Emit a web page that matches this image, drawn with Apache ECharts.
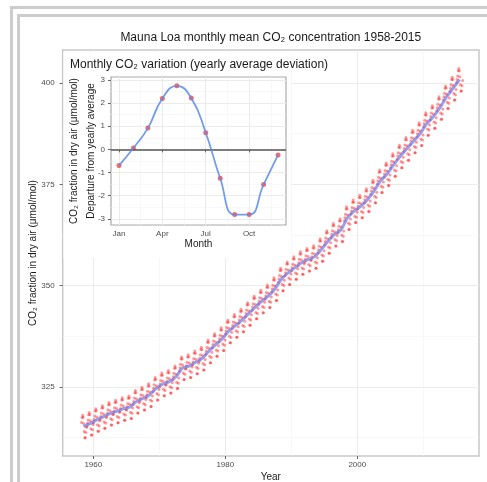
<!DOCTYPE html>
<html>
<head>
<meta charset="utf-8">
<title>Mauna Loa CO2</title>
<script src="https://cdn.jsdelivr.net/npm/echarts@6.0.0/dist/echarts.min.js"></script>
<style>
html, body { margin: 0; padding: 0; background: #fff; }
#chart { width: 487px; height: 482px; }
</style>
</head>
<body>
<div id="chart"></div>
<script>
// yearly means, ppm (Mauna Loa)
var years = [1958,1959,1960,1961,1962,1963,1964,1965,1966,1967,1968,1969,
    1970,1971,1972,1973,1974,1975,1976,1977,1978,1979,1980,1981,1982,1983,1984,1985,1986,1987,1988,1989,
    1990,1991,1992,1993,1994,1995,1996,1997,1998,1999,2000,2001,2002,2003,2004,2005,2006,2007,2008,2009,
    2010,2011,2012,2013,2014,2015];
var annualMean = [315.30,315.97,316.91,317.64,318.45,318.99,319.62,320.04,321.38,322.16,323.04,324.62,
    325.68,326.32,327.45,329.68,330.18,331.11,332.04,333.83,335.40,336.84,338.75,340.11,341.45,343.05,344.65,346.12,347.42,349.19,351.57,353.12,
    354.39,355.61,356.45,357.10,358.83,360.82,362.61,363.73,366.70,368.38,369.55,371.14,373.28,375.80,377.52,379.80,381.90,383.79,385.60,387.43,
    389.90,391.65,393.85,396.52,398.65,400.83];
var firstMonth = 3;   // record starts March 1958

// monthly departure from yearly average (inset)
var months = [1,2,3,4,5,6,7,8,9,10,11,12];
var monthNames = ['Jan','Feb','Mar','Apr','May','Jun','Jul','Aug','Sep','Oct','Nov','Dec'];
var monthDev = [-0.70,0.06,0.92,2.20,2.75,2.22,0.72,-1.25,-2.82,-2.82,-1.52,-0.24];

// tick labels
var yearTicks = [1960,1980,2000];
var yearMinor = [1970,1990,2010];
var ppmTicks = [325,350,375,400];
var ppmMinor = [312.5,337.5,362.5,387.5];
var monthTicks = [1,4,7,10];
var monthMinor = [2.5,5.5,8.5,11.5];
var devTicks = [-3,-2,-1,0,1,2,3];
var devMinor = [-2.5,-1.5,-0.5,0.5,1.5,2.5];

// build the monthly table from the two lists above
var monthly = [];
years.forEach(function (yr, i) {
    for (var m = (i === 0 ? firstMonth : 1); m <= 12; m++) {
        monthly.push([yr + (m - 0.5) / 12, annualMean[i] + monthDev[m - 1]]);
    }
});
var trend = years.map(function (yr, i) { return [yr + 0.5, annualMean[i]]; });
var seasonal = months.map(function (m, i) { return [m, monthDev[i]]; });

var FONT = 'Liberation Sans, Arial, sans-serif';
var labelColor = '#4d4d4d';
var nameStyle = { color: '#1a1a1a', fontSize: 10, fontFamily: FONT };
var majorGrid = { show: true, lineStyle: { color: '#ebebeb', width: 1 } };
var minorGrid = { show: true, lineStyle: { color: '#f4f4f4', width: 0.6 } };

function plain(v) { return String(v); }

function minorAxis(grid, min, max, vals, z) {
    return {
        type: 'value', gridIndex: grid, min: min, max: max, z: z,
        axisLine: { show: false }, axisLabel: { show: false },
        axisTick: { show: false, customValues: vals },
        splitLine: minorGrid
    };
}

var chart = echarts.init(document.getElementById('chart'), null, { renderer: 'canvas' });

var option = {
    animation: false,
    textStyle: { fontFamily: FONT },
    grid: [
        { left: 62.7, top: 50, width: 416.3, height: 406, show: true, outerBoundsMode: 'none',
          backgroundColor: '#fff', borderColor: '#c9c9c9', borderWidth: 1.5 },
        { left: 111, top: 77, width: 175, height: 148, show: true, z: 5, outerBoundsMode: 'none',
          backgroundColor: 'transparent', borderColor: '#a9a9a9', borderWidth: 1.2 }
    ],
    xAxis: [
        { type: 'value', gridIndex: 0, min: 1955.36, max: 2018.44,
          axisLine: { show: false },
          axisTick: { show: true, length: 3, customValues: yearTicks, lineStyle: { color: '#666' } },
          axisLabel: { customValues: yearTicks, margin: 5, color: labelColor, fontSize: 8, formatter: plain },
          splitLine: majorGrid,
          name: 'Year', nameLocation: 'middle', nameGap: 16, nameMoveOverlap: false, nameTextStyle: nameStyle },
        minorAxis(0, 1955.36, 2018.44, yearMinor, 0),
        { type: 'value', gridIndex: 1, min: 0.45, max: 12.55, z: 5,
          axisLine: { show: false },
          axisTick: { show: true, length: 3, customValues: monthTicks, lineStyle: { color: '#666' } },
          axisLabel: { customValues: monthTicks, margin: 5, color: labelColor, fontSize: 8,
                       formatter: function (v) { return monthNames[v - 1]; } },
          splitLine: majorGrid,
          name: 'Month', nameLocation: 'middle', nameGap: 14, nameMoveOverlap: false, nameTextStyle: nameStyle },
        minorAxis(1, 0.45, 12.55, monthMinor, 5)
    ],
    yAxis: [
        { type: 'value', gridIndex: 0, min: 307.98, max: 408.14,
          axisLine: { show: false },
          axisTick: { show: true, length: 3, customValues: ppmTicks, lineStyle: { color: '#666' } },
          axisLabel: { customValues: ppmTicks, margin: 8, color: labelColor, fontSize: 8, formatter: plain },
          splitLine: majorGrid,
          name: 'CO₂ fraction in dry air (μmol/mol)', nameLocation: 'middle', nameGap: 24,
          nameMoveOverlap: false, nameRotate: 90, nameTextStyle: nameStyle },
        minorAxis(0, 307.98, 408.14, ppmMinor, 0),
        { type: 'value', gridIndex: 1, min: -3.27, max: 3.13, z: 5,
          axisLine: { show: false },
          axisTick: { show: true, length: 3, customValues: devTicks, lineStyle: { color: '#666' } },
          axisLabel: { customValues: devTicks, margin: 6, color: labelColor, fontSize: 8, formatter: plain },
          splitLine: majorGrid,
          name: 'CO₂ fraction in dry air (μmol/mol)\nDeparture from yearly average',
          nameLocation: 'middle', nameGap: 11.5, nameRotate: 90, nameMoveOverlap: false,
          nameTextStyle: { color: '#1a1a1a', fontSize: 10, fontFamily: FONT, lineHeight: 17 } },
        minorAxis(1, -3.27, 3.13, devMinor, 5)
    ],
    series: [
        { name: 'monthly', type: 'scatter', xAxisIndex: 0, yAxisIndex: 0, data: monthly,
          symbolSize: 3, itemStyle: { color: 'rgba(255,0,0,0.5)' }, z: 2 },
        { name: 'trend', type: 'line', xAxisIndex: 0, yAxisIndex: 0, data: trend,
          smooth: 0.3, showSymbol: false, lineStyle: { color: 'rgba(100,110,225,0.65)', width: 3 }, z: 3 },
        { name: 'seasonal points', type: 'scatter', xAxisIndex: 2, yAxisIndex: 2, data: seasonal,
          symbolSize: 5, itemStyle: { color: 'rgba(255,0,0,0.75)' }, z: 6,
          markLine: { silent: true, symbol: 'none', label: { show: false },
                      lineStyle: { color: '#555', width: 1.5, type: 'solid' },
                      data: [{ yAxis: 0 }] } },
        { name: 'seasonal curve', type: 'line', xAxisIndex: 2, yAxisIndex: 2, data: seasonal,
          smooth: 0.5, showSymbol: false, lineStyle: { color: 'rgba(90,140,230,0.85)', width: 1.8 }, z: 7 }
    ],
    graphic: [
        // inset background
        { type: 'rect', z: 1, silent: true,
          shape: { x: 63.5, y: 51, width: 227.5, height: 207 }, style: { fill: '#fff' } },
        { type: 'text', z: 8, x: 270.8, y: 37.5,
          style: { text: 'Mauna Loa monthly mean CO₂ concentration 1958-2015', textAlign: 'center',
                   textVerticalAlign: 'middle', fontSize: 12, fontFamily: FONT, fill: '#1a1a1a' } },
        { type: 'text', z: 8, x: 70, y: 65,
          style: { text: 'Monthly CO₂ variation (yearly average deviation)', textAlign: 'left',
                   textVerticalAlign: 'middle', fontSize: 12, fontFamily: FONT, fill: '#1a1a1a' } },
        // page frame
        { type: 'polyline', z: 10, silent: true,
          shape: { points: [[11.5, 482], [11.5, 7.5], [487, 7.5]] },
          style: { stroke: '#cccccc', lineWidth: 3, fill: null } },
        { type: 'polyline', z: 10, silent: true,
          shape: { points: [[18.5, 482], [18.5, 15.5], [487, 15.5]] },
          style: { stroke: '#cccccc', lineWidth: 3, fill: null } }
    ]
};

chart.setOption(option);
</script>
</body>
</html>
